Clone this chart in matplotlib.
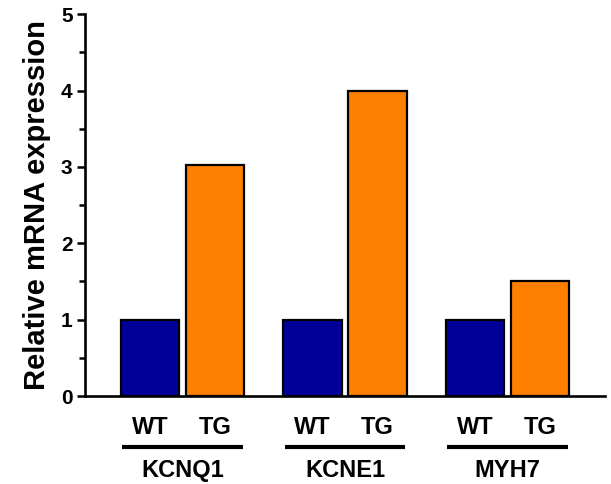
import matplotlib.pyplot as plt
import matplotlib.transforms as mtransforms
import numpy as np

genes = ['KCNQ1', 'KCNE1', 'MYH7']
groups = ['WT', 'TG']
wt_values = [1.0, 1.0, 1.0]
tg_values = [3.02, 4.0, 1.51]

plt.rcParams['font.family'] = ['Liberation Sans', 'DejaVu Sans']
plt.rcParams['font.weight'] = 'bold'

fig = plt.figure(figsize=(6.11, 4.84), dpi=100)
ax = fig.add_axes([0.1392, 0.1818, 0.851, 0.789])

x = np.arange(len(genes))
w = 0.36
off = 0.2
ax.bar(x - off, wt_values, width=w, color='#000099', edgecolor='black', linewidth=1.6, zorder=3)
ax.bar(x + off, tg_values, width=w, color='#FF8000', edgecolor='black', linewidth=1.6, zorder=3)

ax.set_xlim(-0.6, 2.6)
ax.set_ylim(0, 5)
ax.set_yticks(range(6))
ax.set_yticks(np.arange(0.5, 5, 1), minor=True)
ax.set_xticks([])
ax.tick_params(axis='y', which='major', direction='out', length=6, width=1.8, labelsize=15, pad=3)
ax.tick_params(axis='y', which='minor', direction='out', length=4, width=1.8)
for lab in ax.get_yticklabels():
    lab.set_fontweight('bold')
for s in ['top', 'right']:
    ax.spines[s].set_visible(False)
for s in ['left', 'bottom']:
    ax.spines[s].set_linewidth(1.9)

ax.set_ylabel('Relative mRNA expression', fontsize=21, fontweight='bold', labelpad=7)

trans = mtransforms.blended_transform_factory(ax.transData, ax.transAxes)
for i, g in enumerate(genes):
    ax.text(i - off, -0.082, groups[0], transform=trans, ha='center', va='center',
            fontsize=17, fontweight='bold')
    ax.text(i + off, -0.082, groups[1], transform=trans, ha='center', va='center',
            fontsize=17, fontweight='bold')
    ax.plot([i - 0.37, i + 0.37], [-0.134, -0.134], transform=trans, color='black',
            linewidth=3, clip_on=False, solid_capstyle='butt')
    ax.text(i, -0.196, g, transform=trans, ha='center', va='center',
            fontsize=17, fontweight='bold')

fig.savefig('out.png', dpi=100)
